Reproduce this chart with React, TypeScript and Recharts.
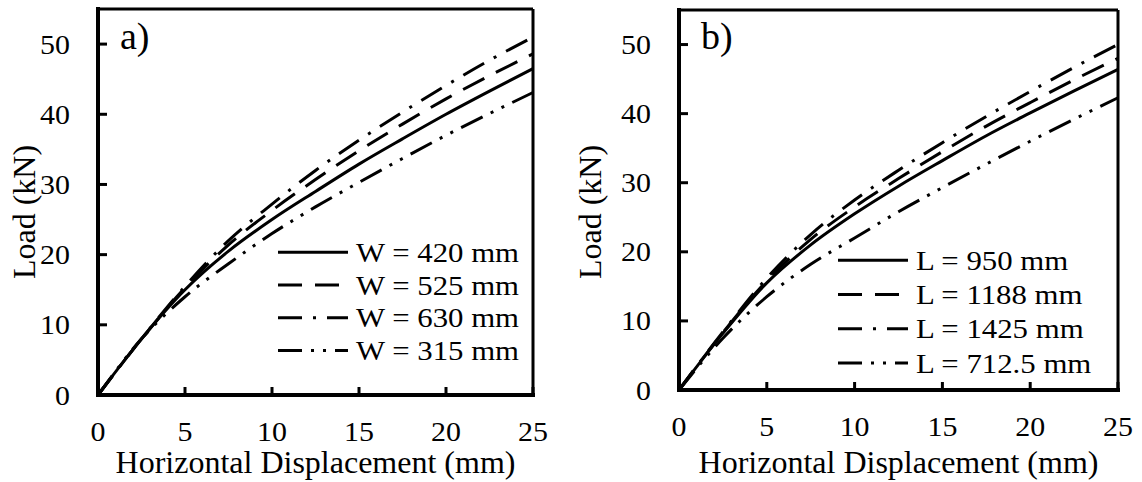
import React from 'react';
import { LineChart, Line, XAxis, YAxis, ReferenceLine, Legend, Label } from 'recharts';

// x values (Horizontal Displacement, mm)
const xValues = [0, 2.5, 5, 7.5, 10, 12.5, 15, 17.5, 20, 22.5, 25];

// Panel a) Load (kN)
const w420 = [0, 8, 15, 20.5, 25, 29, 32.9, 36.5, 40, 43.3, 46.5];
const w525 = [0, 8, 15.3, 21.4, 26.3, 30.7, 34.8, 38.6, 42.2, 45.5, 48.6];
const w630 = [0, 8, 15.5, 22, 27.2, 32, 36.3, 40.3, 44.1, 47.7, 51];
const w315 = [0, 8, 14, 18.7, 23, 26.8, 30.3, 33.7, 37, 40.1, 43.1];

// Panel b) Load (kN)
const l950 = [0, 8.2, 15.5, 21, 25.5, 29.5, 33.2, 36.8, 40.1, 43.3, 46.4];
const l1188 = [0, 8.3, 15.8, 21.8, 26.5, 30.6, 34.5, 38.2, 41.6, 44.9, 48];
const l1425 = [0, 8.4, 16.2, 22.5, 27.5, 31.8, 35.8, 39.6, 43.2, 46.7, 50];
const l712 = [0, 7.5, 13.5, 18.2, 22, 25.8, 29.3, 32.7, 36, 39.2, 42.3];

const wLabels = ['W = 420 mm', 'W = 525 mm', 'W = 630 mm', 'W = 315 mm'];
const lLabels = ['L = 950 mm', 'L = 1188 mm', 'L = 1425 mm', 'L = 712.5 mm'];

const xTicks = [0, 5, 10, 15, 20, 25];
const yTicks = [0, 10, 20, 30, 40, 50];

const FONT = 'Liberation Serif, Times New Roman, serif';
const fontStyle = { fontFamily: FONT };
const dashes: (string | undefined)[] = [undefined, '24 13', '24 11 3 11', '24 9 3 9 3 9'];

const dataA = xValues.map((x, i) => ({ x, s0: w420[i], s1: w525[i], s2: w630[i], s3: w315[i] }));
const dataB = xValues.map((x, i) => ({ x, s0: l950[i], s1: l1188[i], s2: l1425[i], s3: l712[i] }));

const makeLegend = (labels: string[], rowH: number) => () => (
  <svg width={270} height={rowH * 4} style={{ display: 'block', overflow: 'visible' }}>
    {labels.map((lab, i) => {
      const cy = rowH * i + rowH / 2;
      return (
        <g key={i}>
          <line x1={0} x2={70} y1={cy} y2={cy} stroke="#000" strokeWidth={3} strokeDasharray={dashes[i]} />
          <text
            x={0}
            y={0}
            transform={`translate(78, ${cy + 9.5}) scale(1.1, 1)`}
            fontSize={28}
            style={fontStyle}
            fill="#000"
          >
            {lab}
          </text>
        </g>
      );
    })}
  </svg>
);

const XTick = (props: any) => {
  const { x, y, payload } = props;
  return (
    <text
      x={0}
      y={0}
      transform={`translate(${x}, ${y + 20}) scale(1.07, 1)`}
      textAnchor="middle"
      fontSize={28}
      fill="#000"
      style={fontStyle}
    >
      {payload.value}
    </text>
  );
};

const YTick = (props: any) => {
  const { x, y, payload } = props;
  return (
    <text
      x={0}
      y={0}
      transform={`translate(${x}, ${y + 9.5}) scale(1.07, 1)`}
      textAnchor="end"
      fontSize={28}
      fill="#000"
      style={fontStyle}
    >
      {payload.value}
    </text>
  );
};

type PanelProps = {
  data: any[];
  labels: string[];
  left: number;
  width: number;
  plotLeft: number;
  plotRight: number;
  plotTop: number;
  plotBottom: number;
  tag: string;
  legendTop: number;
  legendRowH: number;
  yLabelX: number;
};

const Panel = (p: PanelProps) => {
  const height = 482;
  const axisStyle = { stroke: '#000', strokeWidth: 4, strokeLinecap: 'square' as const };
  const tickLine = { stroke: '#000', strokeWidth: 3 };
  const plotCx = (p.plotLeft + p.plotRight) / 2;
  return (
    <div style={{ position: 'absolute', left: p.left, top: 0, width: p.width, height, fontFamily: FONT }}>
      <LineChart
        width={p.width}
        height={height}
        data={p.data}
        margin={{ top: p.plotTop, right: p.width - p.plotRight, left: 0, bottom: 0 }}
        style={fontStyle}
      >
        <XAxis
          dataKey="x"
          type="number"
          domain={[0, 25]}
          ticks={xTicks}
          height={height - p.plotBottom}
          axisLine={axisStyle}
          tickLine={tickLine}
          tickSize={-8}
          tickMargin={34}
          tick={<XTick />}
          interval={0}
        >
          <Label
            content={() => (
              <text x={plotCx} y={473} textAnchor="middle" fontSize={32} style={fontStyle} fill="#000">
                Horizontal Displacement (mm)
              </text>
            )}
          />
        </XAxis>
        <YAxis
          type="number"
          domain={[0, 55]}
          ticks={yTicks}
          width={p.plotLeft}
          axisLine={axisStyle}
          tickLine={tickLine}
          tickSize={-9}
          tickMargin={37}
          tick={<YTick />}
          interval={0}
        >
          <Label
            content={() => (
              <text
                x={p.yLabelX}
                y={212}
                transform={`rotate(-90, ${p.yLabelX}, 212)`}
                textAnchor="middle"
                dy={11}
                fontSize={32}
                style={fontStyle}
                fill="#000"
              >
                Load (kN)
              </text>
            )}
          />
        </YAxis>
        <ReferenceLine y={55} stroke="#000" strokeWidth={3} />
        <ReferenceLine x={25} stroke="#000" strokeWidth={3} />
        {['s0', 's1', 's2', 's3'].map((k, i) => (
          <Line
            key={k}
            type="monotone"
            dataKey={k}
            name={p.labels[i]}
            stroke="#000"
            strokeWidth={3}
            strokeDasharray={dashes[i]}
            dot={false}
            activeDot={false}
            isAnimationActive={false}
          />
        ))}
        <Legend
          layout="vertical"
          align="center"
          verticalAlign="middle"
          content={makeLegend(p.labels, p.legendRowH)}
          wrapperStyle={{ left: 278, top: p.legendTop, width: 270 }}
        />
      </LineChart>
      <div
        style={{
          position: 'absolute',
          left: p.plotLeft + 22,
          top: 14,
          fontFamily: FONT,
          fontSize: 38,
          lineHeight: '44px',
          color: '#000',
        }}
      >
        {p.tag}
      </div>
    </div>
  );
};

export default function App() {
  return (
    <div style={{ position: 'absolute', left: 0, top: 0, width: 1142, height: 482, background: '#fff' }}>
      <Panel
        data={dataA}
        labels={wLabels}
        left={0}
        width={560}
        plotLeft={98}
        plotRight={533}
        plotTop={9}
        plotBottom={395}
        tag="a)"
        legendTop={235.6}
        legendRowH={32.7}
        yLabelX={24}
      />
      <Panel
        data={dataB}
        labels={lLabels}
        left={560}
        width={582}
        plotLeft={119}
        plotRight={558}
        plotTop={10}
        plotBottom={390}
        tag="b)"
        legendTop={242.8}
        legendRowH={34.3}
        yLabelX={30}
      />
    </div>
  );
}
